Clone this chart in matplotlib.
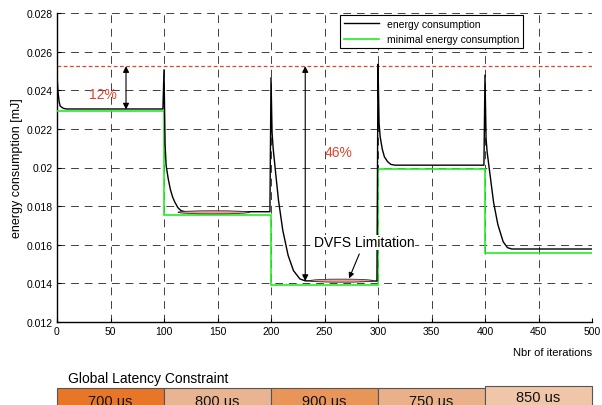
import matplotlib
matplotlib.use("Agg")
import matplotlib.pyplot as plt
from matplotlib.patches import Ellipse

plt.rcParams['font.family'] = ['Liberation Sans', 'DejaVu Sans']

# energy consumption (iteration, mJ)
iterations = [0, 1, 2, 3, 6, 9, 99,
              100, 101, 102, 104, 106, 108, 110, 113, 116, 120, 199,
              200, 201, 202, 204, 207, 211, 216, 221, 227, 232, 299,
              300, 301, 302, 304, 306, 309, 312, 316, 399,
              400, 401, 402, 405, 408, 412, 417, 421, 425, 500]
energy = [0.02475, 0.02390, 0.02340, 0.02318, 0.02306, 0.02303, 0.02303,
          0.02506, 0.02120, 0.02010, 0.01940, 0.01885, 0.01848, 0.01822, 0.01792, 0.01776, 0.01771, 0.01771,
          0.02465, 0.02180, 0.02100, 0.01990, 0.01830, 0.01675, 0.01545, 0.01466, 0.01423, 0.01413, 0.01412,
          0.02535, 0.02230, 0.02160, 0.02095, 0.02055, 0.02030, 0.02016, 0.02012, 0.02012,
          0.02479, 0.02150, 0.02080, 0.01950, 0.01820, 0.01705, 0.01615, 0.01585, 0.01578, 0.01578]

# minimal energy per constraint phase
phase_edges = [0, 100, 200, 300, 400, 500]
min_energy = [0.02293, 0.01754, 0.01390, 0.01994, 0.01556]

worst_case = 0.02525

latency_labels = ["700 us", "800 us", "900 us", "750 us", "850 us"]
latency_colors = ["#e87628", "#e9b492", "#e8955a", "#e9b08a", "#efc7a8"]

fig = plt.figure(figsize=(6.02, 4.06), dpi=100)
ax = fig.add_axes([57 / 602, 1 - 323 / 406, 535 / 602, 309 / 406])

green = ax.stairs(min_energy, phase_edges, color="#22ee22", lw=1.2, baseline=None,
                  label="minimal energy consumption", zorder=3)
black, = ax.plot(iterations, energy, color="black", lw=1.0, label="energy consumption", zorder=4)
ax.axhline(worst_case, color="#e0452a", lw=0.9, linestyle=(0, (3, 2)), zorder=2)

# highlight the DVFS plateaus
for xc, yc, w in [(146.5, 0.01768, 67), (266, 0.01414, 59)]:
    ax.add_patch(Ellipse((xc, yc), w, 0.00016, facecolor="#eea090",
                         edgecolor="#333333", lw=0.6, zorder=5))

arrow = dict(arrowstyle="<|-|>", color="black", lw=0.8, shrinkA=0, shrinkB=0,
             mutation_scale=9)
ax.annotate("", xy=(64.5, worst_case), xytext=(64.5, 0.0230), arrowprops=arrow, zorder=6)
ax.annotate("", xy=(232, worst_case), xytext=(232, 0.01412), arrowprops=arrow, zorder=6)
ax.text(43, 0.02381, "12%", color="#e0452a", fontsize=10, ha="center", va="center")
ax.text(263, 0.0208, "46%", color="#e0452a", fontsize=10, ha="center", va="center")
ax.annotate("DVFS Limitation", xy=(273, 0.01426), xytext=(287, 0.01612),
            fontsize=10, ha="center", va="center",
            bbox=dict(facecolor="white", edgecolor="none", pad=0.5),
            arrowprops=dict(arrowstyle="-|>", color="black", lw=0.8,
                            shrinkA=3, shrinkB=0, mutation_scale=8), zorder=6)

ax.set_xlim(0, 500)
ax.set_ylim(0.012, 0.028)
ax.set_xticks(range(0, 501, 50))
yt = [0.012, 0.014, 0.016, 0.018, 0.020, 0.022, 0.024, 0.026, 0.028]
ax.set_yticks(yt)
ax.set_yticklabels([("%.3f" % v).rstrip("0") for v in yt])
ax.tick_params(direction="in", length=3, labelsize=7.5, pad=3, width=0.8)
ax.grid(True, color="#404040", linestyle=(0, (8, 6)), linewidth=0.7)
ax.set_axisbelow(True)
for s in ["top", "right"]:
    ax.spines[s].set_visible(False)
for s in ["left", "bottom"]:
    ax.spines[s].set_linewidth(1.0)
ax.set_ylabel("energy consumption [mJ]", fontsize=9, labelpad=3)
fig.text(592 / 602, 1 - 353 / 406, "Nbr of iterations", fontsize=8, ha="right", va="center")

leg = ax.legend([black, green], ["energy consumption", "minimal energy consumption"],
                loc="upper left", bbox_to_anchor=(0.529, 0.994), fontsize=7.5,
                fancybox=False, edgecolor="black", framealpha=1, borderaxespad=0,
                handlelength=3.3, borderpad=0.4, labelspacing=0.5)
leg.get_frame().set_linewidth(0.8)

# latency constraint strip under the chart
fig.text(68 / 602, 1 - 379 / 406, "Global Latency Constraint", fontsize=10, ha="left", va="center")
bx = fig.add_axes([57 / 602, 1 - 420 / 406, 535 / 602, 31 / 406])
bx.set_xlim(0, 500)
bx.set_ylim(0, 1)
bx.axis("off")
centers = [(a + b) / 2 for a, b in zip(phase_edges[:-1], phase_edges[1:])]
heights = [1, 1, 1, 1, 1.07]
label_y = [0.58, 0.58, 0.58, 0.58, 0.71]
bx.bar(centers, heights, width=100, color=latency_colors, edgecolor="#555555",
       linewidth=0.8, align="center", clip_on=False)
for xc, ly, lab in zip(centers, label_y, latency_labels):
    bx.text(xc, ly, lab, fontsize=10.5, ha="center", va="center", color="#111111",
            clip_on=False)

fig.savefig("out.png", dpi=100)
